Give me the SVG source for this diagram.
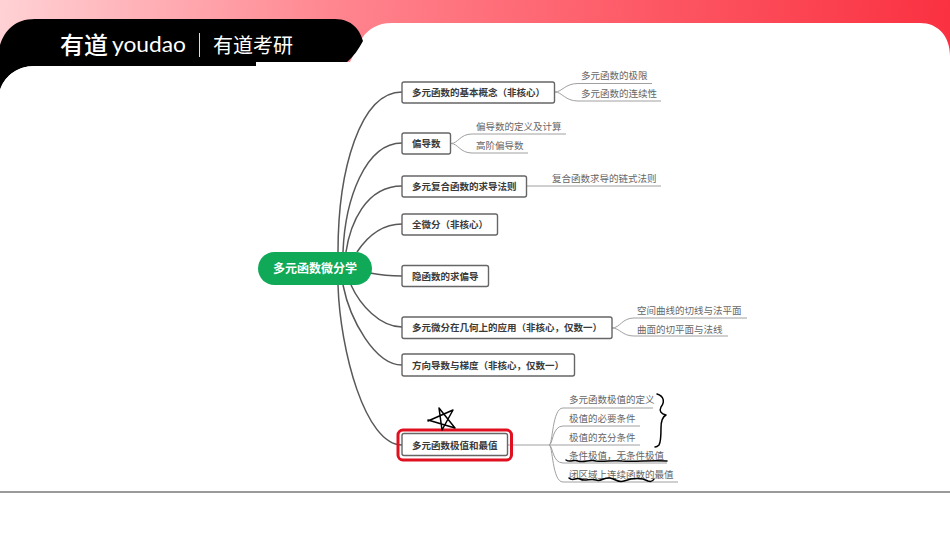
<svg xmlns="http://www.w3.org/2000/svg" width="950" height="535" viewBox="0 0 950 535">
<style>
text{font-family:"Liberation Sans","Noto Sans CJK SC",sans-serif}
.box{fill:#fff;stroke:#666;stroke-width:1.4}
.nt{font-size:9.5px;font-weight:bold;fill:#3a3a3a;font-family:"Noto Sans CJK SC",sans-serif}
.st{font-size:9.5px;fill:#666;font-family:"Noto Sans CJK SC",sans-serif}
.c{fill:none;stroke:#585858;stroke-width:1.5}
.s{fill:none;stroke:#a0a0a0;stroke-width:1}
.ink{fill:none;stroke:#000;stroke-width:1.5;stroke-linecap:round;stroke-linejoin:round}
.logo{fill:#fff;font-family:"Noto Sans CJK SC",sans-serif}
</style>
<defs>
<linearGradient id="hdr" x1="0" y1="0" x2="950" y2="90" gradientUnits="userSpaceOnUse">
<stop offset="0" stop-color="#ffd2d5"/>
<stop offset="0.35" stop-color="#ff858f"/>
<stop offset="0.7" stop-color="#fd5562"/>
<stop offset="1" stop-color="#fa3040"/>
</linearGradient>
</defs>
<rect width="950" height="535" fill="#fff"/>
<g id="header">
<rect width="950" height="90" fill="url(#hdr)"/>
<path d="M350,62 C358,48 362,23 392,23 H920 C938,23 950,36 950,56 V100 H0 V62 Z" fill="#fff"/>
<path d="M0,45 C5,30 15,19 35,19 H335 C352,19 360,30 363,41 C358,50 354,56 347,62 H256 V66 H35 C15,66 4,78 0,90 Z" fill="#000"/>
<path d="M0,90 C4,78 15,66 35,66 H256 V100 H0 Z" fill="#fff"/>
<text class="logo" x="60" y="54" font-size="24" font-weight="500">有道</text>
<text x="112" y="52" font-size="21" fill="#fff" textLength="74" lengthAdjust="spacingAndGlyphs" style="font-family:Lato,sans-serif">youdao</text>
<rect x="199" y="33" width="1" height="24" fill="#ddd"/>
<text class="logo" x="213" y="53" font-size="20" font-weight="400">有道考研</text>
</g>
<rect id="baseline" x="0" y="491" width="950" height="2" fill="#9a9a9a"/>
<g id="connectors">
<path class="c" d="M338,252 C338,170 360,92 402,92"/>
<path class="c" d="M343,252 C345,200 365,143 402,143"/>
<path class="c" d="M346,252 C350,225 365,186 402,186"/>
<path class="c" d="M357,252 C365,240 380,224 402,224"/>
<path class="c" d="M370,273 C380,275 390,276 402,276"/>
<path class="c" d="M351,285 C360,305 380,327 402,327"/>
<path class="c" d="M343,285 C350,320 375,365 402,365"/>
<path class="c" d="M338,285 C340,350 365,445 402,445"/>
<path class="s" d="M555,92 C562,92 565,83.500 578,83.500 H652 M555,92 C562,92 565,101 578,101 H661"/>
<path class="s" d="M451,143.500 C458,143.500 460,134 472,134 H566 M451,143.500 C458,143.500 460,153 472,153 H528"/>
<path class="s" d="M527,186 H661"/>
<path class="s" d="M612,328 C620,328 622,318 634,318 H747 M612,328 C620,328 622,336 634,336 H728"/>
<path class="s" d="M508,445 H549 M549,445 C553,445 552,408 563,408 H653 M549,445 C553,445 552,426 563,426 H640 M549,445 H640 M549,445 C553,445 552,463 563,463 H667 M549,445 C553,445 552,482 563,482 H678"/>
</g>
<g id="root"><rect x="258" y="252" width="114" height="33" rx="16.500" fill="#0fa958"/><text x="273" y="273" font-size="12" font-weight="bold" fill="#fff" style="font-family:'Noto Sans CJK SC',sans-serif">多元函数微分学</text></g>
<g id="n1"><rect class="box" x="402" y="82" width="152.500" height="21" rx="2"/><text class="nt" x="412" y="96">多元函数的基本概念（非核心）</text></g>
<g id="n2"><rect class="box" x="402" y="133" width="48.500" height="21" rx="2"/><text class="nt" x="412" y="147">偏导数</text></g>
<g id="n3"><rect class="box" x="402" y="176" width="124.500" height="21" rx="2"/><text class="nt" x="412" y="190">多元复合函数的求导法则</text></g>
<g id="n4"><rect class="box" x="402" y="214" width="95.500" height="21" rx="2"/><text class="nt" x="412" y="228">全微分（非核心）</text></g>
<g id="n5"><rect class="box" x="402" y="265.500" width="86.500" height="21" rx="2"/><text class="nt" x="412" y="279.500">隐函数的求偏导</text></g>
<g id="n6"><rect class="box" x="402" y="317" width="210" height="21.500" rx="2"/><text class="nt" x="412" y="331">多元微分在几何上的应用（非核心，仅数一）</text></g>
<g id="n7"><rect class="box" x="402" y="354" width="172.500" height="22" rx="2"/><text class="nt" x="412" y="369">方向导数与梯度（非核心，仅数一）</text></g>
<g id="n8"><rect x="398" y="430" width="113.500" height="30" rx="5" fill="none" stroke="#e01020" stroke-width="3"/><rect class="box" x="402" y="433.500" width="105.500" height="22" rx="2"/><text class="nt" x="412" y="448.500">多元函数极值和最值</text></g>
<g id="leaves">
<text class="st" x="581" y="79">多元函数的极限</text>
<text class="st" x="581" y="97">多元函数的连续性</text>
<text class="st" x="476" y="130">偏导数的定义及计算</text>
<text class="st" x="476" y="149">高阶偏导数</text>
<text class="st" x="552" y="182">复合函数求导的链式法则</text>
<text class="st" x="637" y="314">空间曲线的切线与法平面</text>
<text class="st" x="637" y="333">曲面的切平面与法线</text>
<text class="st" x="569" y="403">多元函数极值的定义</text>
<text class="st" x="569" y="422">极值的必要条件</text>
<text class="st" x="569" y="441">极值的充分条件</text>
<text class="st" x="569" y="459">条件极值，无条件极值</text>
<text class="st" x="569" y="478">闭区域上连续函数的最值</text>
</g>
<g id="annotations">
<path class="ink" d="M428,421 L453,410 L442,430 L439,408 L455,428 L428,420"/>
<path class="ink" d="M657,394 C664,396 665,402 661,407 C659,411 661,414 666,415 C662,417 661,422 661,428 C661,436 661,442 659,445 C658,446 656,447 655,447"/>
<path class="ink" d="M566,460 C570,463 574,459 578,461 C584,463 590,459 596,461 C604,462 612,460 622,461 C635,462 650,460 667,461"/>
<path class="ink" d="M569,478 C573,482 576,477 580,479 C585,482 590,478 596,480 C601,482 604,477 610,478 C616,479 618,483 624,481 C630,479 640,477 648,481 C651,482 653,481 654,479"/>
</g>
</svg>
